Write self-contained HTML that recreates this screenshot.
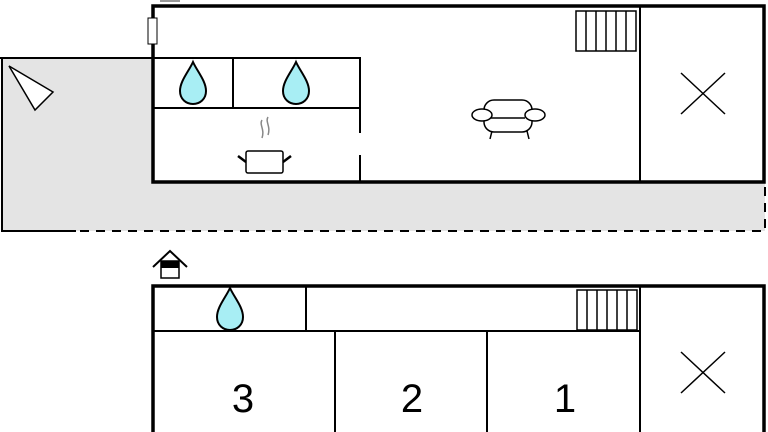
<!DOCTYPE html>
<html><head><style>body{margin:0;background:#fff}svg{display:block}</style></head><body>
<svg width="768" height="432" viewBox="0 0 768 432" xmlns="http://www.w3.org/2000/svg" font-family="Liberation Sans, sans-serif">
<defs>
<g id="drop"><path d="M0,-21 C4,-12 13,-2 13,8 C13,16 7,21 0,21 C-7,21 -13,16 -13,8 C-13,-2 -4,-12 0,-21Z" fill="#a8eef4" stroke="#000" stroke-width="2"/></g>
<g id="stairs"><rect x="0" y="0" width="60" height="40" fill="#fff" stroke="#000" stroke-width="1.5"/><path d="M10,0V40M20,0V40M30,0V40M40,0V40M50,0V40" stroke="#000" stroke-width="1.5"/></g>
</defs>
<rect x="2" y="58" width="763" height="173" fill="#e4e4e4"/>
<path d="M0,58H152M2,58V231H76" stroke="#000" stroke-width="2" fill="none"/>
<path d="M80,231H765V183" stroke="#000" stroke-width="2" stroke-dasharray="9,7" fill="none"/>
<polygon points="9,66 53,92 35,110" fill="#fff" stroke="#000" stroke-width="1.5"/>
<rect x="160" y="0" width="20" height="2" fill="#999"/>
<rect x="153" y="6" width="611" height="176" fill="#fff" stroke="#000" stroke-width="3.5"/>
<path d="M640,6V182" stroke="#000" stroke-width="2"/>
<path d="M153,58H360V133M360,155V182M153,108H360M233,58V108" stroke="#000" stroke-width="2" fill="none"/>
<rect x="148" y="18" width="9" height="26" fill="#fff" stroke="#000" stroke-width="1"/>
<use href="#stairs" x="576" y="11"/>
<use href="#drop" x="193" y="83"/>
<use href="#drop" x="296" y="83"/>
<rect x="246" y="151" width="37" height="22" rx="2" fill="#fff" stroke="#000" stroke-width="1.5"/>
<path d="M238,156L246,162M291,156L283,162" stroke="#000" stroke-width="2.5"/>
<path d="M262,120c-3,5 3,9 0,18M268,117c-3,5 3,9 0,18" stroke="#888" stroke-width="1.5" fill="none"/>
<g stroke="#000" stroke-width="1.5" fill="#fff">
<rect x="484" y="100" width="48" height="32" rx="10"/>
<path d="M491,118H525"/>
<ellipse cx="482" cy="115" rx="10" ry="6"/>
<ellipse cx="535" cy="115" rx="10" ry="6"/>
<path d="M492,131L490,139M527,131L529,139"/>
</g>
<path d="M681,73L725,114M681,114L725,73" stroke="#000" stroke-width="1.5"/>
<rect x="153" y="286" width="611" height="160" fill="#fff" stroke="#000" stroke-width="3.5"/>
<path d="M153,331H640M306,286V331M640,286V432M335,331V432M487,331V432" stroke="#000" stroke-width="2" fill="none"/>
<use href="#stairs" x="577" y="290"/>
<use href="#drop" x="230" y="309"/>
<path d="M681,352L725,393M681,393L725,352" stroke="#000" stroke-width="1.5"/>
<g font-size="40" text-anchor="middle" fill="#000">
<text x="243" y="412">3</text><text x="412" y="412">2</text><text x="565" y="412">1</text>
</g>
<path d="M153,267L170,251L187,267" stroke="#000" stroke-width="2" fill="none"/>
<rect x="161" y="261" width="18" height="17" fill="#fff" stroke="#000" stroke-width="1.5"/>
<rect x="161" y="261" width="18" height="7" fill="#000"/>
</svg>
</body></html>
